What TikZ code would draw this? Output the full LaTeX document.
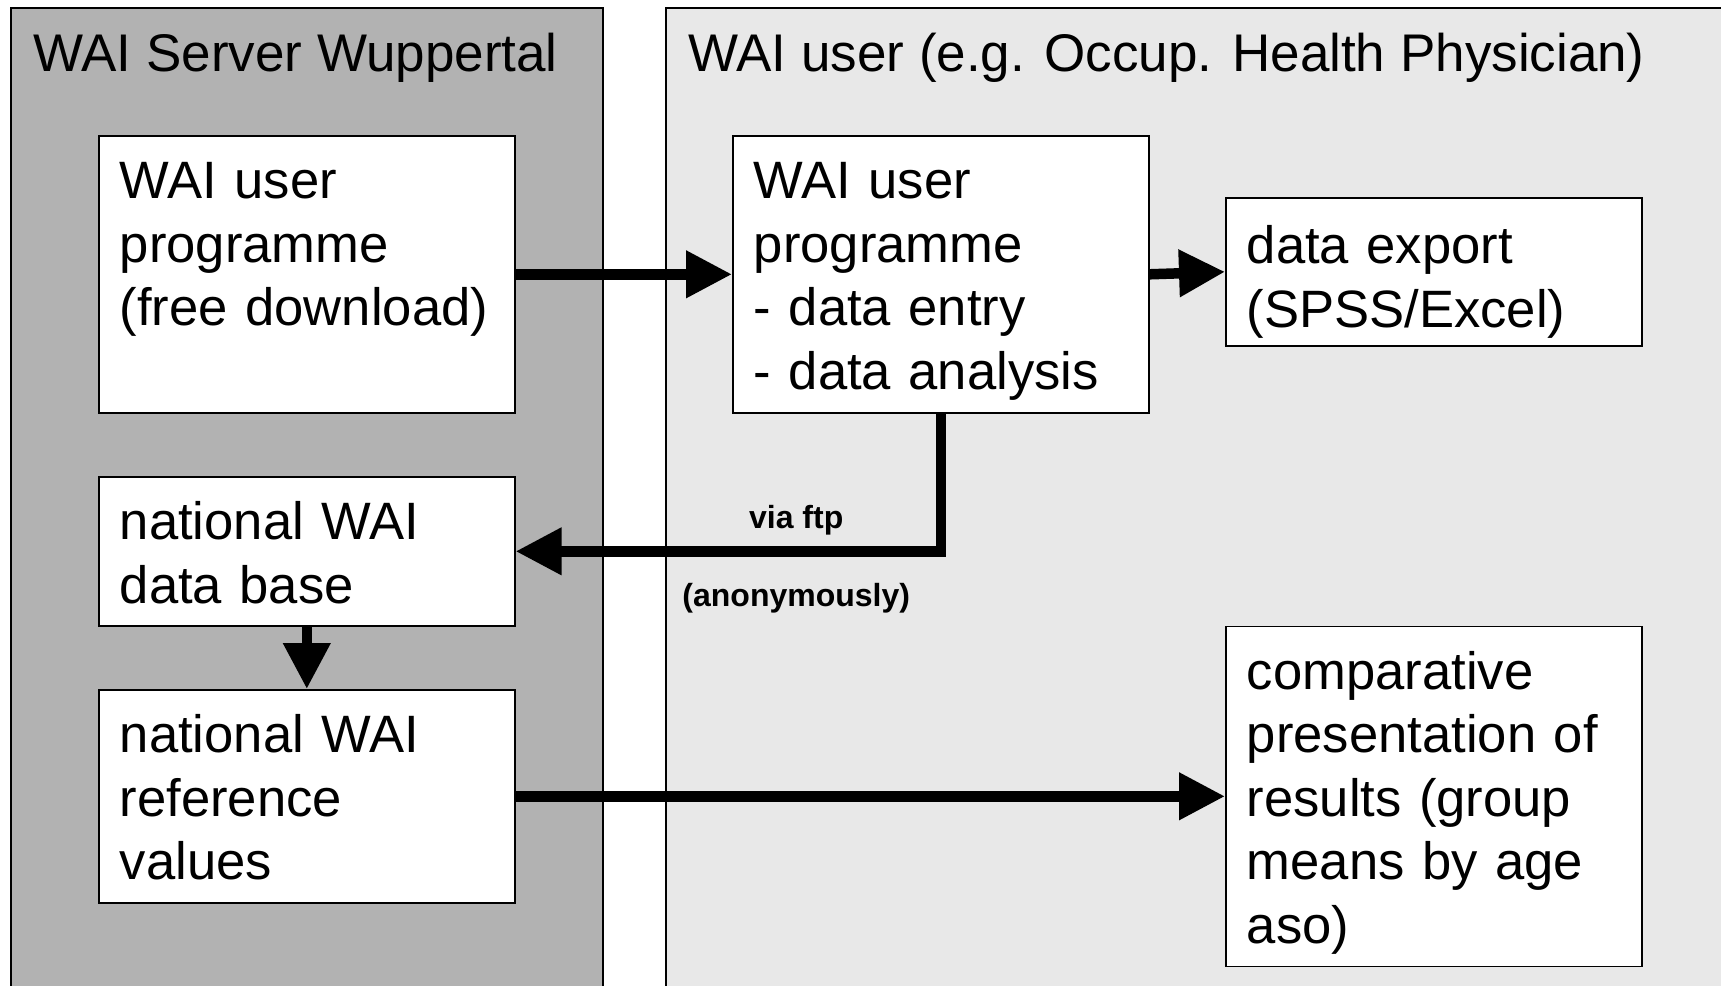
\documentclass[tikz,border=0pt]{standalone}
\usepackage{fontspec}
\setmainfont{Liberation Sans}
\usetikzlibrary{positioning, arrows.meta}

\begin{document}
\begin{tikzpicture}[
    node distance=31.2pt,
    box/.style={draw=black, line width=0.8pt, fill=white, minimum width=208pt, text width=187pt, inner xsep=10.5pt, inner ysep=0pt, text height=31.5pt, align=left, font=\fontsize{26.3}{31.75}\selectfont},
    title/.style={anchor=base west, inner sep=0pt, font=\fontsize{26.5}{31.75}\selectfont},
    panel/.style={draw=black, line width=0.75pt},
    arrow/.style={-{Triangle[length=23pt, width=22.5pt]}, line width=5.25pt},
    note/.style={font=\fontsize{16}{18}\selectfont\bfseries, inner sep=0pt}
]
    \useasboundingbox (0,0) rectangle (860.5pt,-493pt);

    % Panels
    \draw[panel, fill=black!30] (5.5pt,-4pt) rectangle (301.5pt,-520pt);
    \draw[panel, fill=black!9] (333pt,-4pt) rectangle (880pt,-520pt);
    \node[title] (server) at (16.5pt,-35.5pt) {WAI Server Wuppertal};
    \node[title] (user) at (344pt,-35.5pt) {WAI user (e.g. Occup. Health Physician)};

    \node[box, text depth=107pt, anchor=north west] (prog) at (49pt,-67.5pt) {WAI user\\programme\\(free download)};
    \node[box, text depth=107pt, right=108.2pt of prog] (entry) {WAI user\\programme\\- data entry\\- data analysis};
    \node[box, text height=33pt, text depth=41pt, right=37.7pt of entry, yshift=1.25pt] (export) {data export\\(SPSS/Excel)};
    \node[box, text depth=43pt, below=of prog] (base) {national WAI\\data base};
    \node[box, text depth=75pt, below=of base] (ref) {national WAI\\reference\\values};
    \node[box, text depth=138.5pt, anchor=west] (compare) at (export.west |- ref.east) {comparative\\presentation of\\results (group\\means by age\\aso)};

    \draw[arrow] (prog) -- (entry);
    \draw[arrow] (entry.east) -- (export.west);
    \draw[arrow] (entry.south) |- node[note, pos=0.67, yshift=15.5pt] (ftp) {via ftp} node[note, pos=0.67, yshift=-23.5pt] (anon) {(anonymously)} (base.east);
    \draw[arrow] (base) -- (ref);
    \draw[arrow] (ref.east) -- (compare.west);

\end{tikzpicture}
\end{document}
